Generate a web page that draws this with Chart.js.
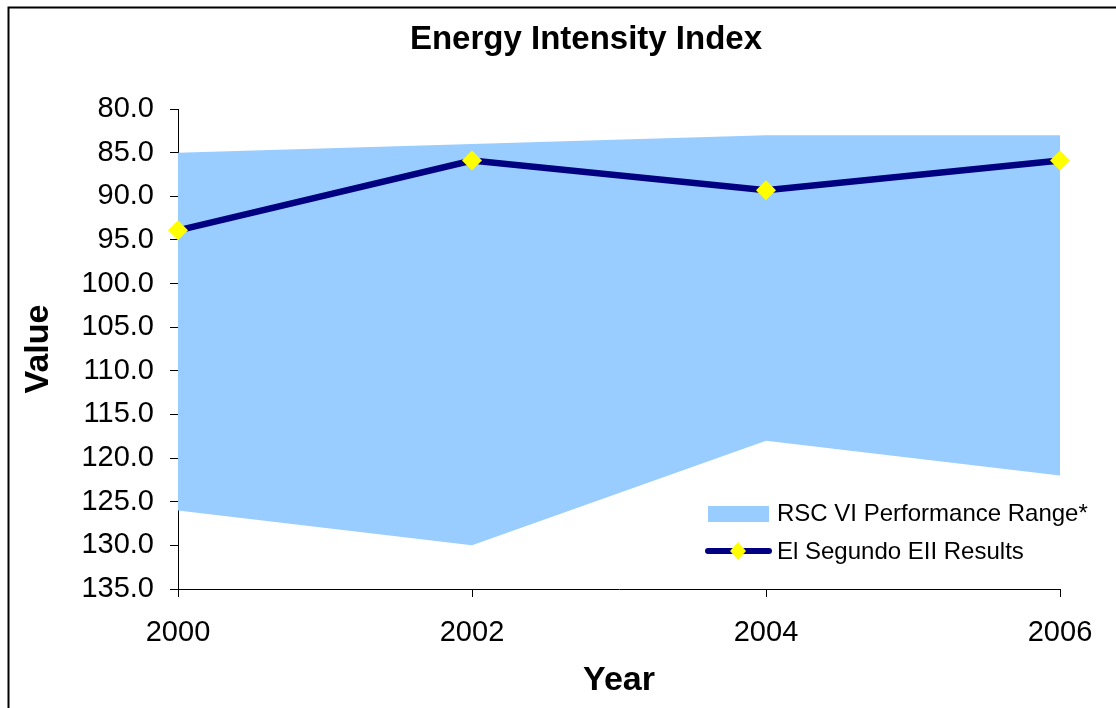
<!DOCTYPE html>
<html>
<head>
<meta charset="utf-8">
<script src="https://cdn.jsdelivr.net/npm/chart.js@4.4.1/dist/chart.umd.min.js"></script>
<style>
  html, body { margin: 0; padding: 0; background: #ffffff; overflow: hidden; }
  #wrap { position: relative; width: 1116px; height: 708px; }
</style>
</head>
<body>
<div id="wrap"><canvas id="c" width="1116" height="708"></canvas></div>
<script>
const chartTitle = 'Energy Intensity Index';
const years = ['2000', '2002', '2004', '2006'];
const rangeTop = [85.0, 84.0, 83.0, 83.0];
const rangeBottom = [126.0, 130.0, 118.0, 122.0];
const elSegundo = [93.9, 85.9, 89.3, 85.9];
const yMin = 80, yMax = 135, yStep = 5;
const rangeLabel = 'RSC VI Performance Range*';
const lineLabel = 'El Segundo EII Results';

const FONT = "'Liberation Sans', Arial, sans-serif";
const NAVY = '#000080';
const FILL = '#99CCFF';
const YELLOW = '#FFFF00';

const decorPlugin = {
  id: 'decor',
  beforeDraw(chart) {
    const ctx = chart.ctx;
    ctx.save();
    ctx.fillStyle = '#ffffff';
    ctx.fillRect(0, 0, chart.width, chart.height);
    ctx.restore();
  },
  afterDraw(chart) {
    const ctx = chart.ctx;
    ctx.save();
    // outer frame (left and top edges visible)
    ctx.strokeStyle = '#000000';
    ctx.lineWidth = 2;
    ctx.beginPath();
    ctx.moveTo(8.5, chart.height + 2);
    ctx.lineTo(8.5, 7.5);
    ctx.lineTo(chart.width + 2, 7.5);
    ctx.stroke();
    // title
    ctx.fillStyle = '#000000';
    ctx.font = 'bold 33px ' + FONT;
    ctx.textAlign = 'center';
    ctx.textBaseline = 'middle';
    ctx.fillText(chartTitle, 586, 40);
    // legend
    ctx.fillStyle = FILL;
    ctx.fillRect(708, 506, 61, 16);
    ctx.strokeStyle = NAVY;
    ctx.lineWidth = 6;
    ctx.lineCap = 'round';
    ctx.beginPath();
    ctx.moveTo(708, 551);
    ctx.lineTo(769, 551);
    ctx.stroke();
    ctx.fillStyle = YELLOW;
    ctx.beginPath();
    ctx.moveTo(738, 542);
    ctx.lineTo(746, 551);
    ctx.lineTo(738, 560);
    ctx.lineTo(730, 551);
    ctx.closePath();
    ctx.fill();
    ctx.fillStyle = '#000000';
    ctx.font = '24px ' + FONT;
    ctx.textAlign = 'left';
    ctx.textBaseline = 'middle';
    ctx.fillText(rangeLabel, 777, 514);
    ctx.fillText(lineLabel, 777, 552);
    ctx.restore();
  }
};

new Chart(document.getElementById('c'), {
  type: 'line',
  data: {
    labels: years,
    datasets: [
      {
        label: lineLabel,
        data: elSegundo,
        borderColor: NAVY,
        borderWidth: 6.5,
        backgroundColor: YELLOW,
        pointStyle: 'rectRot',
        pointRadius: 10,
        pointBorderWidth: 0,
        pointBackgroundColor: YELLOW,
        pointBorderColor: YELLOW,
        fill: false,
        tension: 0,
        clip: false
      },
      {
        label: rangeLabel,
        data: rangeTop,
        borderWidth: 0,
        borderColor: FILL,
        backgroundColor: FILL,
        pointRadius: 0,
        fill: '+1',
        tension: 0
      },
      {
        label: 'range bottom',
        data: rangeBottom,
        borderWidth: 0,
        borderColor: FILL,
        backgroundColor: FILL,
        pointRadius: 0,
        fill: false,
        tension: 0
      }
    ]
  },
  options: {
    responsive: false,
    animation: false,
    devicePixelRatio: 1,
    layout: { padding: { left: 0, right: 56, top: 109, bottom: 0 } },
    plugins: {
      legend: { display: false },
      title: { display: false },
      tooltip: { enabled: false }
    },
    scales: {
      x: {
        type: 'category',
        offset: false,
        border: { display: true, color: '#000000', width: 1 },
        grid: { display: true, drawOnChartArea: false, drawTicks: true, tickLength: 8, color: '#000000' },
        ticks: { color: '#000000', font: { family: FONT, size: 29 }, padding: 19, maxRotation: 0 },
        title: { display: true, text: 'Year', color: '#000000', font: { family: FONT, size: 34, weight: 'bold' }, padding: { top: 0, bottom: 7 } },
        afterFit(scale) { scale.height = 119; }
      },
      y: {
        reverse: true,
        min: yMin,
        max: yMax,
        border: { display: true, color: '#000000', width: 1 },
        grid: { display: true, drawOnChartArea: false, drawTicks: true, tickLength: 8, color: '#000000' },
        ticks: {
          stepSize: yStep,
          color: '#000000',
          font: { family: FONT, size: 29 },
          padding: 16,
          callback: (v) => Number(v).toFixed(1)
        },
        title: { display: true, text: 'Value', color: '#000000', font: { family: FONT, size: 34, weight: 'bold' }, padding: { top: 18, bottom: 0 } },
        afterFit(scale) { scale.width = 178; }
      }
    }
  },
  plugins: [decorPlugin]
});
</script>
</body>
</html>
